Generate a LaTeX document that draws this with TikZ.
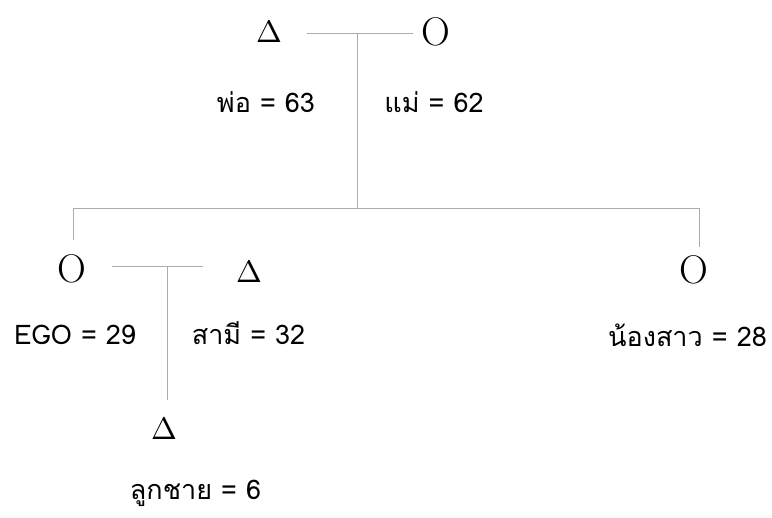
\documentclass[tikz,border=0pt]{standalone}
\usepackage{fontspec}
\usepackage{unicode-math}
\newfontfamily\thaifont[Script=Thai]{Loma}
\usetikzlibrary{calc}

\begin{document}
\begin{tikzpicture} [x=1pt, y=-1pt,
  male/.style={anchor=base, inner sep=0pt, font=\fontsize{31}{31}\selectfont},
  female/.style={anchor=base, inner sep=0pt, font=\fontsize{40}{40}\selectfont},
  lbl/.style={anchor=base, inner sep=0pt, font=\thaifont\fontsize{27}{27}\selectfont},
  tie/.style={gray!65, line width=0.7pt}]
\useasboundingbox (0,0) rectangle (772,518);
% parents
\node[male] (pa) at (269.5,43) {$\Delta$};
\node[female] (ma) at (436,46) {O};
\node[lbl] (paage) at (266,113) {พ่อ = 63};
\node[lbl] (maage) at (434,113) {แม่ = 62};
% children
\node[female] (ego) at (71.5,283) {O};
\node[male] (hus) at (249.5,283) {$\Delta$};
\node[female] (sis) at (694,284) {O};
\node[lbl] (egoage) at (75,345) {EGO = 29};
\node[lbl] (husage) at (248.5,345) {สามี = 32};
\node[lbl] (sisage) at (687.5,347) {น้องสาว = 28};
% grandchild
\node[male] (son) at (164.5,440) {$\Delta$};
\node[lbl] (sonage) at (195.5,500) {ลูกชาย = 6};
% ties
\coordinate (m1l) at (307,33);
\coordinate (m1r) at (413,33);
\coordinate (m1) at (357,33);
\coordinate (sb) at (357,208);
\coordinate (sbl) at (73,208);
\coordinate (sbr) at (699,208);
\coordinate (egotop) at (73,240);
\coordinate (sistop) at (699,247);
\coordinate (m2l) at (112,266);
\coordinate (m2r) at (203,266);
\coordinate (m2) at (167,266);
\coordinate (sontop) at (167,400);
\draw[tie] (m1l) -- (m1r);
\draw[tie] (m1) -- (sb);
\draw[tie] (egotop) -- (sbl) -- (sbr) -- (sistop);
\draw[tie] (m2l) -- (m2r);
\draw[tie] (m2) -- (sontop);
\end{tikzpicture}
\end{document}
